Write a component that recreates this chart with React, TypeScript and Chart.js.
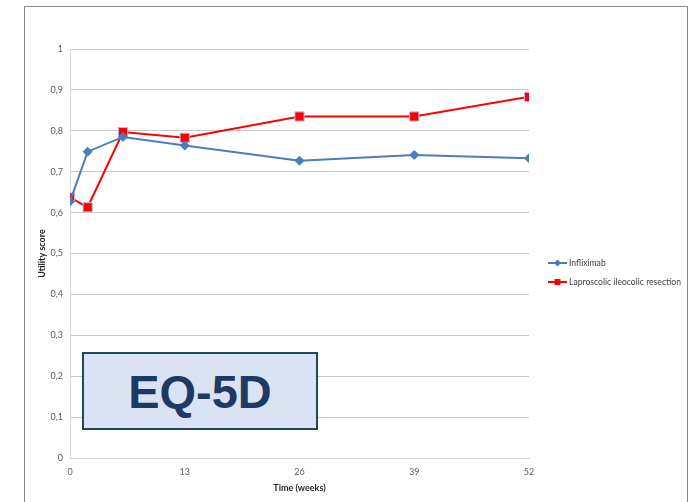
import React, { useEffect, useRef } from "react";
import { Chart, registerables } from "chart.js";

Chart.register(...registerables);

const weeks = [0, 2, 6, 13, 26, 39, 52];
const infliximab = [0.627, 0.749, 0.785, 0.764, 0.727, 0.741, 0.733];
const laparoscopic = [0.637, 0.613, 0.797, 0.783, 0.835, 0.835, 0.883];
const seriesNames = ["Infliximab", "Laproscolic ileocolic resection"];
const xTicks = [0, 13, 26, 39, 52];
const yTicks = [0, 0.1, 0.2, 0.3, 0.4, 0.5, 0.6, 0.7, 0.8, 0.9, 1];

const FONT = "Lato, 'Open Sans', sans-serif";

const legendPlugin = {
  id: "sideLegend",
  afterDraw(chart: any) {
    const ctx = chart.ctx;
    const area = chart.chartArea;
    const x0 = area.right + 19;
    const yStart = 263;
    const gap = 19;
    ctx.save();
    chart.data.datasets.forEach((ds: any, i: number) => {
      const y = yStart + i * gap;
      ctx.strokeStyle = ds.borderColor;
      ctx.lineWidth = 2;
      ctx.beginPath();
      ctx.moveTo(x0, y);
      ctx.lineTo(x0 + 19, y);
      ctx.stroke();
      const cx = x0 + 9.5;
      ctx.fillStyle = ds.pointBackgroundColor;
      ctx.beginPath();
      if (ds.pointStyle === "rectRot") {
        const r = 3.5;
        ctx.moveTo(cx, y - r);
        ctx.lineTo(cx + r, y);
        ctx.lineTo(cx, y + r);
        ctx.lineTo(cx - r, y);
        ctx.closePath();
        ctx.fill();
      } else {
        const s = 3;
        ctx.rect(cx - s, y - s, 2 * s, 2 * s);
        ctx.fill();
      }
      ctx.fillStyle = "#404040";
      ctx.font = `8.6px ${FONT}`;
      ctx.textBaseline = "middle";
      ctx.textAlign = "left";
      ctx.fillText(ds.label, x0 + 21, y);
    });
    ctx.restore();
  },
};

export default function App() {
  const ref = useRef<HTMLCanvasElement | null>(null);
  useEffect(() => {
    if (!ref.current) return;
    const chart = new Chart(ref.current, {
      type: "line",
      data: {
        datasets: [
          {
            label: seriesNames[0],
            data: weeks.map((w, i) => ({ x: w, y: infliximab[i] })),
            borderColor: "#4a7ebb",
            backgroundColor: "#4a7ebb",
            pointBackgroundColor: "#4a7ebb",
            pointBorderColor: "#4a7ebb",
            pointStyle: "rectRot",
            pointRadius: 4.5,
            pointBorderWidth: 1,
            borderWidth: 2,
            tension: 0,
          },
          {
            label: seriesNames[1],
            data: weeks.map((w, i) => ({ x: w, y: laparoscopic[i] })),
            borderColor: "#ff0000",
            backgroundColor: "#ff0000",
            pointBackgroundColor: "#ff0000",
            pointBorderColor: "#b4bfe0",
            pointStyle: "rect",
            pointRadius: 6.5,
            pointBorderWidth: 1,
            borderWidth: 2,
            tension: 0,
          },
        ],
      },
      options: {
        animation: false,
        responsive: false,
        layout: { padding: { left: 37, right: 166, top: 49, bottom: 9 } },
        plugins: { legend: { display: false }, tooltip: { enabled: false } },
        scales: {
          x: {
            type: "linear",
            min: 0,
            max: 52,
            afterBuildTicks: (s: any) => {
              s.ticks = xTicks.map((v) => ({ value: v }));
            },
            afterFit: (s: any) => {
              s.height = 35;
            },
            grid: { display: false, drawTicks: false },
            border: { display: true, color: "#d9d9d9", width: 1 },
            ticks: { color: "#595959", font: { size: 9, family: FONT }, padding: 9 },
            title: {
              display: true,
              text: "Time (weeks)",
              color: "#262626",
              font: { size: 9, weight: "bold", family: FONT },
              padding: { top: 4, bottom: 0 },
            },
          },
          y: {
            min: 0,
            max: 1,
            afterBuildTicks: (s: any) => {
              s.ticks = yTicks.map((v) => ({ value: v }));
            },
            afterFit: (s: any) => {
              s.width = 33;
            },
            grid: { color: "#c8c8c8", drawTicks: false },
            border: { display: true, color: "#d9d9d9", width: 1 },
            ticks: {
              color: "#595959",
              font: { size: 9, family: FONT },
              padding: 7,
              callback: (v: any) => String(Math.round(Number(v) * 10) / 10).replace(".", ","),
            },
            title: {
              display: true,
              text: "Utility score",
              color: "#262626",
              font: { size: 9, weight: "bold", family: FONT },
              padding: { top: 0, bottom: 4 },
            },
          },
        },
      },
      plugins: [legendPlugin],
    } as any);
    return () => chart.destroy();
  }, []);

  return (
    <div style={{ position: "absolute", left: 0, top: 0, width: 695, height: 502, overflow: "hidden", background: "#fff" }}>
      <div
        style={{
          position: "absolute",
          left: 24,
          top: 6,
          width: 664,
          height: 520,
          border: "1px solid #8a8a8a",
          boxSizing: "border-box",
        }}
      />
      <canvas ref={ref} width={695} height={502} style={{ position: "absolute", left: 0, top: 0 }} />
      <div
        style={{
          position: "absolute",
          left: 82,
          top: 352,
          width: 236,
          height: 78,
          boxSizing: "border-box",
          background: "#dae3f3",
          border: "2px solid #1d4a55",
          display: "flex",
          alignItems: "center",
          justifyContent: "center",
          fontFamily: "'Liberation Sans', Arial, sans-serif",
          fontWeight: "bold",
          fontSize: 47,
          color: "#1f3864",
        }}
      >
        EQ-5D
      </div>
    </div>
  );
}
